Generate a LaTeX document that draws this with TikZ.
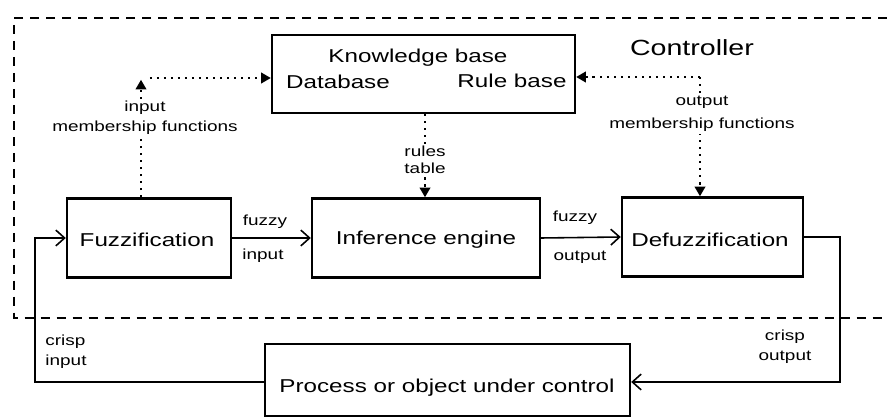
\documentclass[tikz,border=0pt]{standalone}
\usepackage{fontspec}
\setmainfont[FakeStretch=1.3]{Liberation Sans}
\usetikzlibrary{arrows.meta}
\begin{document}
\begin{tikzpicture}[x=0.02cm,y=-0.02cm,
  box/.style={draw,line width=1.4pt,inner sep=0pt},
  boxtext/.style={font=\fontsize{10.6}{12}\selectfont,inner sep=0pt},
  small/.style={font=\fontsize{8.3}{11.4}\selectfont,align=center,inner sep=1pt},
  conn/.style={line width=0.9pt,-{Straight Barb[length=5pt,width=9pt,line width=0.9pt]}},
  dotline/.style={line width=1.2pt,dash pattern=on 1.2pt off 2.8pt},
  dotarrow/.style={dotline,-{Triangle[length=5.5pt,width=6pt]}},
  boundary/.style={line width=1.2pt,dash pattern=on 0.18cm off 0.14cm}]
\useasboundingbox (0,0) rectangle (887,418);
\clip (0,0) rectangle (887,418);
\fill[white] (0,0) rectangle (887,418);

% controller boundary
\draw[boundary] (887,18) -- (14,18) -- (14,318) -- (887,318);
\node[font=\fontsize{12.5}{14}\selectfont,inner sep=0pt] (ctrl) at (692,48) {Controller};

% boxes
\node[box,minimum width=6.06cm,minimum height=1.56cm] (kb) at (423.5,74) {};
\node[boxtext] (kbt) at (418,58) {Knowledge base};
\node[boxtext] (db) at (338,82) {Database};
\node[boxtext] (rb) at (512,81) {Rule base};

\node[box,minimum width=3.28cm,minimum height=1.58cm] (fuzz) at (149,238) {};
\node[boxtext] (fuzzt) at (147,240) {Fuzzification};
\node[box,minimum width=4.56cm,minimum height=1.58cm] (inf) at (426,238) {};
\node[boxtext] (inft) at (426,240) {Inference engine};
\node[box,minimum width=3.62cm,minimum height=1.58cm] (defuzz) at (712.5,237) {};
\node[boxtext] (defuzzt) at (710,240) {Defuzzification};
\node[box,minimum width=7.3cm,minimum height=1.44cm] (proc) at (447.5,380) {};
\node[boxtext] (proct) at (447,388) {Process or object under control};

% solid connectors
\draw[conn] (fuzz.east) -- (inf.west);
\draw[conn] (inf.east) -- (defuzz.west);
\coordinate (ro) at (840,382);
\coordinate (lo) at (35,382);
\draw[conn] (defuzz.east) -| (ro) -- (ro -| proc.east);
\draw[conn] (lo -| proc.west) -- (lo) |- (fuzz.west);

\node[small] (fi1) at (265,222) {fuzzy};
\node[small] (fi2) at (263,256) {input};
\node[small] (fo1) at (575,218) {fuzzy};
\node[small] (fo2) at (580,257) {output};
\node[small,align=left] (ci) at (66,352) {crisp\\input};
\node[small] (co) at (785,347) {crisp\\output};

% dotted connectors
\coordinate (lc) at (141,78);
\coordinate (rc) at (700,77);
\draw[dotarrow] (fuzz.north -| lc) -- ([yshift=-1pt]lc);
\draw[dotarrow] ([xshift=5pt]lc) -- (lc -| kb.west);
\draw[dotarrow] (rc) -- (rc -| kb.east);
\draw[dotarrow] (rc) -- (rc |- defuzz.north);
\coordinate (rt) at (425,0);
\draw[dotarrow] (kb.south -| rt) -- (inf.north -| rt);

\node[small,fill=white] (iml) at (145,118) {input\\membership functions};
\node[small,fill=white] (oml) at (702,114) {output\\[2pt]membership functions};
\node[small,fill=white,font=\fontsize{8.3}{10}\selectfont] (rtl) at (425,160) {rules\\table};
\end{tikzpicture}
\end{document}
